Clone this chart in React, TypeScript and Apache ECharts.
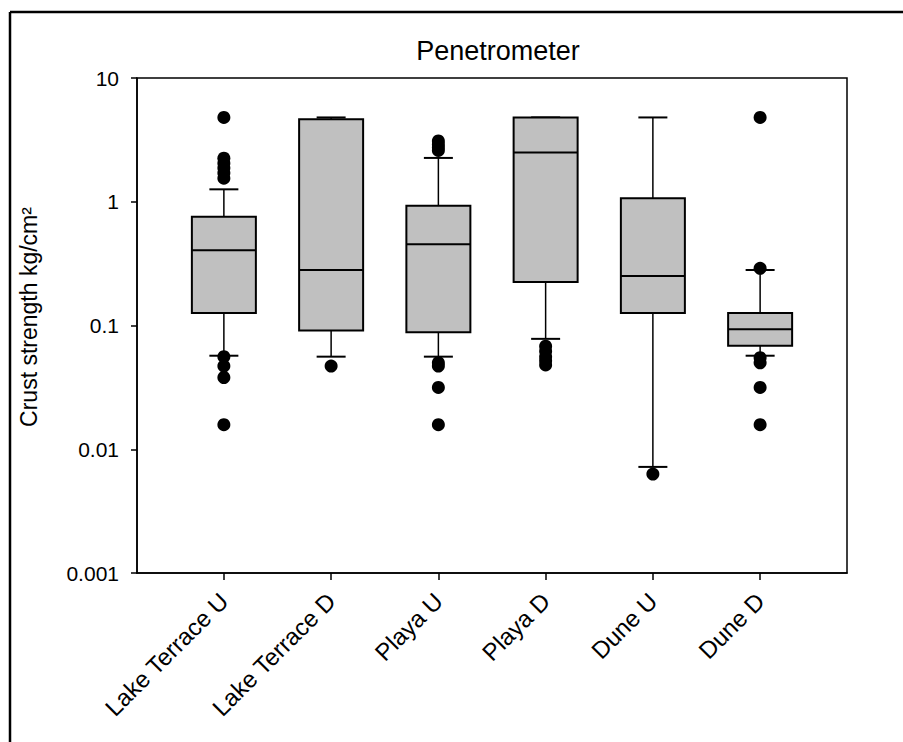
import React, { useEffect, useRef } from "react";
import * as echarts from "echarts";

const categories = ["Lake Terrace U", "Lake Terrace D", "Playa U", "Playa D", "Dune U", "Dune D"];
const whiskerLow = [0.057, 0.056, 0.056, 0.078, 0.0072, 0.057];
const q1 = [0.126, 0.091, 0.088, 0.225, 0.126, 0.0685];
const median = [0.405, 0.281, 0.453, 2.5, 0.251, 0.0934];
const q3 = [0.757, 4.65, 0.93, 4.8, 1.065, 0.126];
const whiskerHigh = [1.26, 4.8, 2.26, 4.8, 4.8, 0.281];
const outliers = [
  [4.8, 2.25, 2.05, 1.87, 1.71, 1.55, 0.056, 0.047, 0.038, 0.0158],
  [0.047],
  [3.1, 2.9, 2.75, 2.6, 0.05, 0.047, 0.0316, 0.0158],
  [0.068, 0.062, 0.056, 0.052, 0.048],
  [0.0063],
  [4.8, 0.29, 0.055, 0.05, 0.0316, 0.0158],
];
const yTickLabels = ["0.001", "0.01", "0.1", "1", "10"];

const FONT = 'Arial, "Liberation Sans", sans-serif';

export default function App() {
  const ref = useRef<HTMLDivElement>(null);
  useEffect(() => {
    if (!ref.current) return;
    const chart = echarts.init(ref.current, null, { renderer: "svg" });
    const positions = categories.map((_, i) => i + 1);
    const boxData = categories.map((_, i) => [
      positions[i], whiskerLow[i], q1[i], median[i], q3[i], whiskerHigh[i],
    ]);
    const outlierData: number[][] = [];
    outliers.forEach((arr, i) => arr.forEach((v) => outlierData.push([positions[i], v])));

    const BOX_W = 64;
    const CAP_W = 29;

    chart.setOption({
      animation: false,
      backgroundColor: "#fff",
      textStyle: { fontFamily: FONT, color: "#000" },
      title: {
        text: "Penetrometer",
        left: 493,
        top: 32,
        textAlign: "center",
        textStyle: { fontFamily: FONT, fontSize: 27, fontWeight: "normal", color: "#000" },
      },
      grid: {
        left: 137,
        top: 78,
        right: 56,
        bottom: 169,
        show: true,
        borderColor: "#000",
        borderWidth: 1.5,
        backgroundColor: "transparent",
      },
      xAxis: {
        type: "value",
        min: 0.19,
        max: 6.81,
        splitLine: { show: false },
        axisLine: { show: true, lineStyle: { color: "#000", width: 1.5 } },
        axisTick: {
          show: true,
          length: 7,
          lineStyle: { color: "#000", width: 1.5 },
          customValues: positions,
        },
        axisLabel: {
          customValues: positions,
          rotate: 45,
          margin: 24,
          fontSize: 24,
          fontFamily: FONT,
          color: "#000",
          formatter: (v: number) => categories[Math.round(v) - 1] ?? "",
        },
      },
      yAxis: {
        type: "log",
        logBase: 10,
        min: 0.001,
        max: 10,
        splitLine: { show: false },
        minorTick: { show: false },
        axisLine: { show: true, lineStyle: { color: "#000", width: 1.5 } },
        axisTick: { show: true, length: 6, lineStyle: { color: "#000", width: 1.5 } },
        axisLabel: {
          margin: 18,
          fontSize: 21,
          fontFamily: FONT,
          color: "#000",
          formatter: (v: number) => {
            const idx = Math.round(Math.log10(v)) + 3;
            return yTickLabels[idx] ?? String(v);
          },
        },
      },
      graphic: [
        {
          type: "line",
          shape: { x1: 10, y1: 12, x2: 903, y2: 12 },
          style: { stroke: "#000", lineWidth: 2.5 },
        },
        {
          type: "line",
          shape: { x1: 10, y1: 12, x2: 10, y2: 742 },
          style: { stroke: "#000", lineWidth: 2.5 },
        },
        {
          type: "text",
          x: 29,
          y: 317,
          rotation: Math.PI / 2,
          style: {
            text: "Crust strength kg/cm²",
            font: `23px ${FONT}`,
            fill: "#000",
            align: "center",
            verticalAlign: "middle",
          },
        },
      ],
      series: [
        {
          type: "custom",
          encode: { x: 0, y: [1, 2, 3, 4, 5] },
          data: boxData,
          z: 2,
          renderItem: (params: any, api: any) => {
            const x = api.value(0);
            const pLow = api.coord([x, api.value(1)]);
            const pQ1 = api.coord([x, api.value(2)]);
            const pMed = api.coord([x, api.value(3)]);
            const pQ3 = api.coord([x, api.value(4)]);
            const pHigh = api.coord([x, api.value(5)]);
            const cx = pMed[0];
            const lineStyle = { stroke: "#000", lineWidth: 1.5 };
            return {
              type: "group",
              children: [
                { type: "line", shape: { x1: cx, y1: pQ1[1], x2: cx, y2: pLow[1] }, style: lineStyle },
                { type: "line", shape: { x1: cx - CAP_W / 2, y1: pLow[1], x2: cx + CAP_W / 2, y2: pLow[1] }, style: { stroke: "#000", lineWidth: 2 } },
                { type: "line", shape: { x1: cx, y1: pQ3[1], x2: cx, y2: pHigh[1] }, style: lineStyle },
                { type: "line", shape: { x1: cx - CAP_W / 2, y1: pHigh[1], x2: cx + CAP_W / 2, y2: pHigh[1] }, style: { stroke: "#000", lineWidth: 2 } },
                {
                  type: "rect",
                  shape: { x: cx - BOX_W / 2, y: pQ3[1], width: BOX_W, height: pQ1[1] - pQ3[1] },
                  style: { fill: "#c0c0c0", stroke: "#000", lineWidth: 2 },
                },
                { type: "line", shape: { x1: cx - BOX_W / 2, y1: pMed[1], x2: cx + BOX_W / 2, y2: pMed[1] }, style: { stroke: "#000", lineWidth: 2 } },
              ],
            };
          },
        },
        {
          type: "scatter",
          data: outlierData,
          symbol: "circle",
          symbolSize: 13,
          itemStyle: { color: "#000", opacity: 1 },
          z: 3,
        },
      ],
    });
    return () => chart.dispose();
  }, []);
  return (
    <div
      ref={ref}
      style={{ position: "fixed", left: 0, top: 0, width: 903, height: 742, background: "#fff" }}
    />
  );
}
